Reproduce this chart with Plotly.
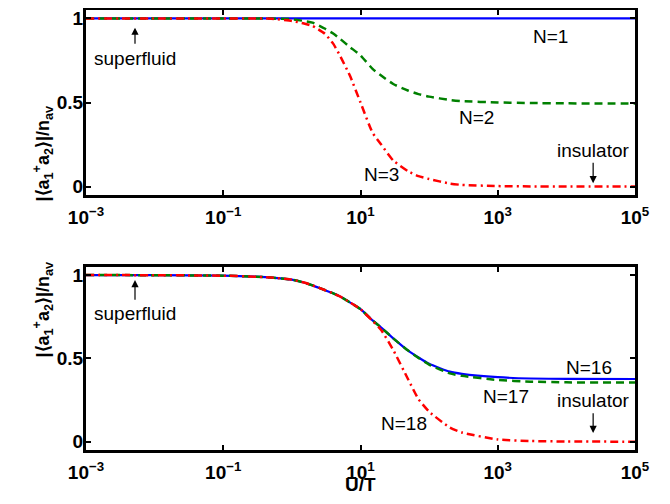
import plotly.graph_objects as go

# ---------------- data ----------------
ut = [1e-3, 1e-2, 1e-1, 0.3, 0.5, 1, 1.5, 2, 3, 4, 5, 7, 10, 15, 20, 30,
      50, 70, 100, 200, 300, 1000, 3000, 1e4, 1e5]

top_n1 = [1.0] * 25
top_n2 = [1.0, 1.0, 1.0, 1.0, 0.999, 0.995, 0.985, 0.975, 0.94, 0.91, 0.88,
          0.83, 0.78, 0.70, 0.66, 0.61, 0.57, 0.55, 0.535, 0.515, 0.508,
          0.50, 0.497, 0.495, 0.494]
top_n3 = [1.0, 1.0, 1.0, 1.0, 0.998, 0.985, 0.97, 0.955, 0.91, 0.85, 0.78,
          0.66, 0.50, 0.32, 0.25, 0.155, 0.09, 0.062, 0.045, 0.018, 0.01,
          0.003, 0.001, 0.0, 0.0]

bot_n16 = [1.0, 0.999, 0.996, 0.99, 0.985, 0.972, 0.955, 0.938, 0.91, 0.89,
           0.872, 0.836, 0.795, 0.728, 0.685, 0.62, 0.545, 0.505, 0.467, 0.42,
           0.407, 0.387, 0.379, 0.377, 0.376]
bot_n17 = [1.0, 0.999, 0.996, 0.99, 0.985, 0.972, 0.955, 0.938, 0.91, 0.89,
           0.872, 0.836, 0.795, 0.728, 0.685, 0.62, 0.545, 0.503, 0.463, 0.41,
           0.395, 0.37, 0.36, 0.356, 0.355]
bot_n18 = [1.0, 0.999, 0.996, 0.99, 0.985, 0.972, 0.955, 0.938, 0.91, 0.89,
           0.872, 0.836, 0.795, 0.724, 0.67, 0.55, 0.37, 0.255, 0.18, 0.085,
           0.055, 0.013, 0.004, 0.001, 0.0]

xtick_vals = [1e-3, 1e-1, 1e1, 1e3, 1e5]
xtick_text = ["10<sup>\u22123</sup>", "10<sup>\u22121</sup>", "10<sup>1</sup>",
              "10<sup>3</sup>", "10<sup>5</sup>"]
ytick_vals = [0, 0.5, 1]
ytick_text = ["0", "0.5", "1"]

BLUE, GREEN, RED = "#0000FF", "#008000", "#FF0000"
FONT = "Liberation Sans, Arial, sans-serif"

fig = go.Figure()

def add(y, color, dash, xa, ya, width=2.5):
    fig.add_trace(go.Scatter(x=ut, y=y, mode="lines", xaxis=xa, yaxis=ya,
                             line=dict(color=color, dash=dash, width=width,
                                       shape="spline", smoothing=0.5),
                             showlegend=False, hoverinfo="skip"))

add(top_n1, BLUE, "solid", "x", "y", 2.2)
add(top_n2, GREEN, "8px,5px", "x", "y")
add(top_n3, RED, "8px,4px,2px,4px", "x", "y")
add(bot_n16, BLUE, "solid", "x2", "y2", 2.2)
add(bot_n17, GREEN, "8px,5px", "x2", "y2")
add(bot_n18, RED, "8px,4px,2px,4px", "x2", "y2")

# the page body has an 8px default margin: figure is offset for it and
# extends to the window's right/bottom edge
OFF = 8
W, H = 670 - OFF, 504 - OFF
def fx(px):
    return (px - OFF) / W
def fy(py):
    return 1 - (py - OFF) / H

xdom = [fx(86), fx(635)]
ydom_top = [fy(195), fy(10)]
ydom_bot = [fy(450), fy(266.7)]

xax = dict(type="log", range=[-3, 5], domain=xdom, tickvals=xtick_vals,
           ticktext=xtick_text, ticks="inside", ticklen=5, tickwidth=1.5,
           tickcolor="black", showline=True, linewidth=3, linecolor="black",
           mirror="ticks", showgrid=False, zeroline=False, automargin=False,
           ticklabelstandoff=3,
           tickfont=dict(family=FONT, size=19, color="black", weight="bold"))
yax = dict(range=[-0.05, 1.05], tickvals=ytick_vals, ticktext=ytick_text,
           ticks="inside", ticklen=5, tickwidth=1.5, tickcolor="black",
           showline=True, linewidth=3, linecolor="black", mirror="ticks",
           showgrid=False, zeroline=False, automargin=False,
           ticklabelstandoff=-4,
           tickfont=dict(family=FONT, size=19, color="black", weight="bold"))

fig.update_layout(
    width=W, height=H, margin=dict(l=0, r=0, t=0, b=0, autoexpand=False),
    paper_bgcolor="white", plot_bgcolor="white",
    xaxis=dict(xax, anchor="y"),
    yaxis=dict(yax, domain=ydom_top, anchor="x"),
    xaxis2=dict(xax, anchor="y2"),
    yaxis2=dict(yax, domain=ydom_bot, anchor="x2"),
)

ann = []
def text(x, y, s, xr, yr, size=19):
    ann.append(dict(x=x, y=y, xref=xr, yref=yr, text=s, showarrow=False,
                    font=dict(family=FONT, size=size, color="black")))

def arrow(x, y_head, y_tail, xr, yr):
    ann.append(dict(x=x, y=y_head, ax=x, ay=y_tail, xref=xr, yref=yr,
                    axref=xr, ayref=yr, text="", showarrow=True,
                    arrowhead=2, arrowsize=1.2, arrowwidth=1.2,
                    arrowcolor="black"))

# top panel labels (x in log10 units)
text(-2.286, 0.764, "superfluid", "x", "y")
arrow(-2.286, 0.945, 0.84, "x", "y")
text(3.764, 0.89, "N=1", "x", "y")
text(2.685, 0.41, "N=2", "x", "y")
text(1.30, 0.07, "N=3", "x", "y")
text(4.39, 0.215, "insulator", "x", "y")
arrow(4.39, 0.02, 0.15, "x", "y")

# bottom panel labels
text(-2.286, 0.769, "superfluid", "x2", "y2")
arrow(-2.286, 0.97, 0.842, "x2", "y2")
text(4.33, 0.444, "N=16", "x2", "y2")
text(3.12, 0.269, "N=17", "x2", "y2")
text(1.636, 0.107, "N=18", "x2", "y2")
text(4.39, 0.247, "insulator", "x2", "y2")
arrow(4.39, 0.052, 0.179, "x2", "y2")

ytitle = "|\u27e8a<sub>1</sub><sup>+</sup>a<sub>2</sub>\u27e9|/n<sub>av</sub>"
for yc in [fy(104), fy(360)]:
    ann.append(dict(x=fx(28), y=yc, xref="paper", yref="paper", text=ytitle,
                    showarrow=False, textangle=-90,
                    font=dict(family=FONT, size=18, color="black", weight="bold")))
ann.append(dict(x=fx(361), y=fy(497), xref="paper", yref="paper",
                text="U/T", showarrow=False,
                font=dict(family=FONT, size=19, color="black", weight="bold")))

fig.update_layout(annotations=ann)
fig.write_html("out.html")
